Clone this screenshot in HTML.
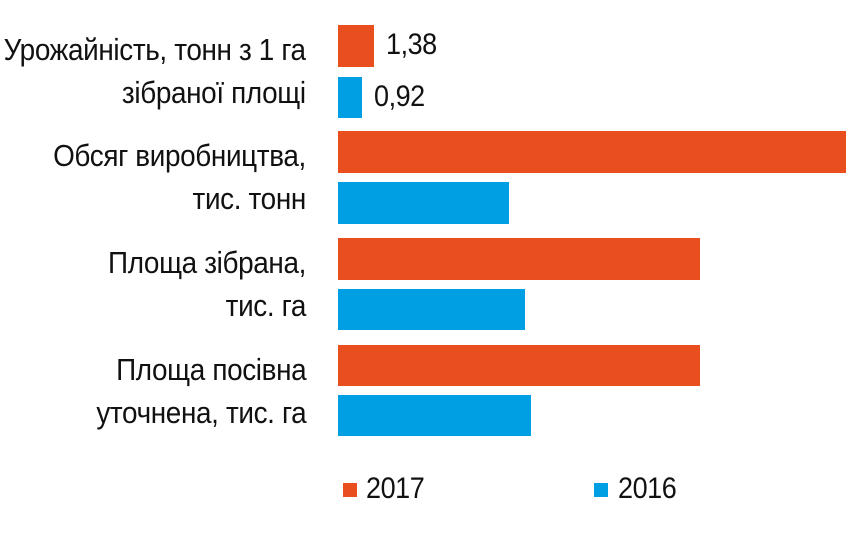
<!DOCTYPE html>
<html><head><meta charset="utf-8"><style>
body{margin:0;width:856px;height:533px;background:#fff;overflow:hidden;position:relative;font-family:"Liberation Sans Narrow","Liberation Sans",sans-serif;color:#111}
.b{position:absolute;left:338px}
.r{background:#e94e1f}.u{background:#009fe3}
.t{position:absolute;font-size:30px;white-space:nowrap;letter-spacing:-0.5px;transform:scaleX(0.9);transform-origin:left center}
.lab{position:absolute;right:550px;text-align:right;font-size:31px;line-height:43px;white-space:nowrap;letter-spacing:-0.4px;transform:scaleX(0.9);transform-origin:right center}
</style></head><body>
<div class="b r" style="top:25px;height:42px;width:36px"></div>
<div class="b u" style="top:77px;height:41px;width:24px"></div>
<div class="b r" style="top:131px;height:42px;width:508px"></div>
<div class="b u" style="top:182px;height:42px;width:171px"></div>
<div class="b r" style="top:238px;height:42px;width:362px"></div>
<div class="b u" style="top:289px;height:41px;width:187px"></div>
<div class="b r" style="top:345px;height:41px;width:362px"></div>
<div class="b u" style="top:395px;height:41px;width:193px"></div>
<div class="t" style="left:386px;top:28px">1,38</div>
<div class="t" style="left:374px;top:80px">0,92</div>
<div class="lab" style="top:28px">Урожайність, тонн з 1 га<br>зібраної площі</div>
<div class="lab" style="top:134px">Обсяг виробництва,<br>тис. тонн</div>
<div class="lab" style="top:241px">Площа зібрана,<br>тис. га</div>
<div class="lab" style="top:348px">Площа посівна<br>уточнена, тис. га</div>
<div class="r" style="position:absolute;left:343px;top:483px;width:14px;height:14px"></div>
<div class="t" style="left:366px;top:472px">2017</div>
<div class="u" style="position:absolute;left:594px;top:483px;width:14px;height:14px"></div>
<div class="t" style="left:618px;top:472px">2016</div>
</body></html>
